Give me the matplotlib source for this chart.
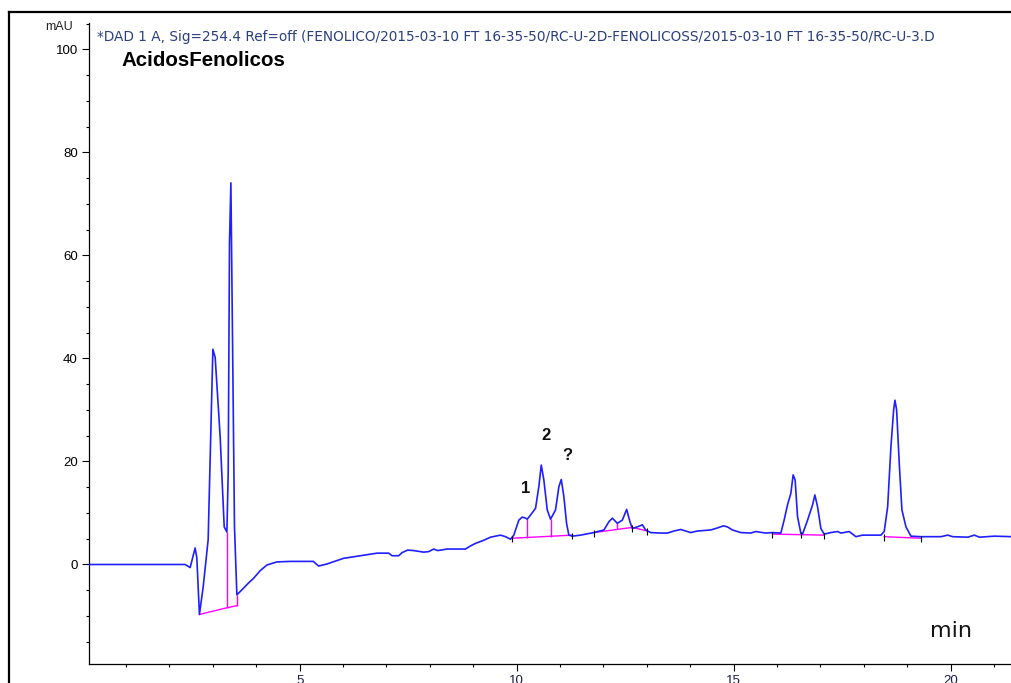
import matplotlib
matplotlib.use("Agg")
import matplotlib.pyplot as plt
from matplotlib.lines import Line2D
from matplotlib.ticker import MultipleLocator

plt.rcParams['font.family'] = ['Liberation Sans', 'DejaVu Sans']

# ---- data (retention time in min, absorbance in mAU) ----
time_min = [0.145, 2.360, 2.476, 2.591, 2.630, 2.690, 2.776, 2.891, 2.953, 3.000,
            3.053, 3.168, 3.261, 3.323, 3.353, 3.383, 3.415, 3.461, 3.498, 3.553,
            3.706, 3.820, 3.936, 4.090, 4.245, 4.476, 4.783, 5.314, 5.436, 5.630, 6.013, 6.244,
            6.474, 6.784, 7.051, 7.130, 7.282, 7.360, 7.490, 7.628, 7.859, 7.974,
            8.090, 8.182, 8.399, 8.821, 8.936, 9.052, 9.213, 9.398, 9.629, 9.744,
            9.860, 9.935, 10.051, 10.129, 10.205, 10.245, 10.321, 10.436, 10.512, 10.568,
            10.628, 10.706, 10.782, 10.897, 10.974, 11.029, 11.089, 11.151, 11.204, 11.283,
            11.474, 11.781, 12.012, 12.127, 12.206, 12.321, 12.436, 12.536, 12.612, 12.667,
            12.783, 12.898, 12.974, 13.089, 13.320, 13.475, 13.627, 13.781, 13.897, 14.012,
            14.167, 14.474, 14.629, 14.767, 14.859, 14.975, 15.166, 15.397, 15.512, 15.743,
            15.897, 16.089, 16.165, 16.244, 16.320, 16.373, 16.419, 16.474, 16.550, 16.590,
            16.705, 16.821, 16.874, 16.936, 17.012, 17.088, 17.243, 17.398, 17.474, 17.665,
            17.820, 17.974, 18.396, 18.472, 18.551, 18.627, 18.689, 18.719, 18.758, 18.818,
            18.880, 18.973, 19.088, 19.319, 19.780, 19.935, 20.051, 20.397, 20.549, 20.665,
            21.010, 21.418]
signal_mau = [0.0, 0.0, -0.6, 3.2, 1.3, -9.7, -4.4, 4.8, 26.1, 41.8,
              40.2, 24.8, 7.3, 6.3, 17.8, 62.4, 74.1, 36.4, 7.3, -5.9,
              -4.6, -3.6, -2.7, -1.2, -0.1, 0.5, 0.6, 0.6, -0.3, 0.1, 1.2, 1.5,
              1.8, 2.2, 2.2, 1.7, 1.7, 2.3, 2.8, 2.7, 2.4, 2.5,
              3.0, 2.7, 3.0, 3.0, 3.6, 4.1, 4.6, 5.3, 5.7, 5.4,
              4.9, 5.7, 8.6, 9.2, 9.0, 8.8, 9.6, 10.9, 15.1, 19.3,
              16.4, 10.6, 8.8, 10.6, 15.1, 16.5, 13.2, 8.0, 5.7, 5.5,
              5.7, 6.2, 6.7, 8.3, 9.0, 8.0, 8.6, 10.7, 8.3, 7.0,
              7.3, 7.7, 6.7, 6.2, 6.1, 6.1, 6.5, 6.8, 6.5, 6.2,
              6.5, 6.7, 7.1, 7.5, 7.3, 6.7, 6.2, 6.1, 6.4, 6.1,
              6.2, 6.1, 8.6, 11.6, 13.8, 17.4, 16.4, 9.3, 6.1, 5.9,
              8.6, 11.6, 13.5, 11.2, 7.0, 5.9, 6.2, 6.4, 6.1, 6.4,
              5.4, 5.7, 5.7, 6.4, 11.2, 22.9, 30.0, 31.9, 30.0, 19.7,
              10.6, 7.3, 5.5, 5.4, 5.4, 5.7, 5.4, 5.3, 5.7, 5.3,
              5.5, 5.4]

# integration baselines (polylines)
baseline_t = [[2.690, 3.323, 3.553],
              [9.898, 11.283],
              [11.781, 12.667, 13.013],
              [15.897, 17.088],
              [18.472, 19.319]]
baseline_v = [[-9.7, -8.4, -8.0],
              [5.1, 5.7],
              [6.2, 7.2, 6.5],
              [5.9, 5.7],
              [5.4, 5.1]]
# peak drop lines (time, bottom, top)
drop_t = [3.323, 3.553, 10.245, 10.782, 12.321, 12.667]
drop_lo = [-8.4, -8.0, 5.2, 5.4, 6.9, 7.2]
drop_hi = [6.3, -5.9, 8.8, 8.8, 8.0, 7.0]
# integration event marks
event_t = [9.898, 11.283, 11.781, 12.667, 13.013, 15.897, 16.550, 17.088, 18.472, 19.319]
event_v = [5.1, 5.7, 6.2, 7.2, 6.5, 5.9, 5.9, 5.7, 5.4, 5.1]

peak_labels = ["1", "2", "?"]
peak_label_t = [10.205, 10.666, 11.17]
peak_label_v = [14.7, 25.0, 21.2]

x_ticks = [5, 10, 15, 20]
y_ticks = [0, 20, 40, 60, 80, 100]

header = ("*DAD 1 A, Sig=254.4 Ref=off (FENOLICO/2015-03-10 FT 16-35-50/RC-U-2D-"
          "FENOLICOSS/2015-03-10 FT 16-35-50/RC-U-3.D")
sample_title = "AcidosFenolicos"

# ---- figure ----
W, H = 1011, 683
fig = plt.figure(figsize=(W / 100, H / 100), dpi=100)
ax = fig.add_axes([89 / W, 18.7 / H, (1013 - 89) / W, (664.3 - 22.7) / H])

ax.plot(time_min, signal_mau, color='#1f1fff', lw=1.2, zorder=3)
for bt, bv in zip(baseline_t, baseline_v):
    ax.plot(bt, bv, color='#ff00ff', lw=1.0, zorder=2)
ax.vlines(drop_t, drop_lo, drop_hi, color='#ff00ff', lw=1.0, zorder=2)
ax.vlines(event_t, [v - 0.8 for v in event_v], [v + 0.5 for v in event_v],
          color='black', lw=0.8, zorder=4)

for lab, t, v in zip(peak_labels, peak_label_t, peak_label_v):
    ax.text(t, v, lab, fontsize=12, fontweight='bold', ha='center', va='center',
            color='#111111')

ax.set_xlim(0.145, 21.44)
ax.set_ylim(-19.38, 105.2)
ax.set_xticks(x_ticks)
ax.set_yticks(y_ticks)
ax.xaxis.set_minor_locator(MultipleLocator(1))
ax.yaxis.set_minor_locator(MultipleLocator(5))
for s in ['top', 'right']:
    ax.spines[s].set_visible(False)
for s in ['left', 'bottom']:
    ax.spines[s].set_linewidth(0.9)
ax.tick_params(axis='both', which='major', direction='out', length=5, width=0.8,
               labelsize=9.5, pad=3, colors='black')
ax.tick_params(axis='both', which='minor', direction='out', length=2.5, width=0.8)
ax.tick_params(axis='x', labelcolor='#1a1a4a')

# texts in pixel positions
def fx(px):
    return px / W

def fy(py):
    return 1 - py / H

fig.text(fx(45), fy(27), "mAU", fontsize=9, ha='left', va='center', color='#222222')
fig.text(fx(97), fy(37), header, fontsize=9.85, ha='left', va='center', color='#2b3f7f',
         family=['DejaVu Sans'])
fig.text(fx(121), fy(60), sample_title, fontsize=14.8, fontweight='bold', ha='left',
         va='center', color='black')
fig.text(fx(930), fy(631), "min", fontsize=16, ha='left', va='center', color='#111111',
         family=['DejaVu Sans'])

# outer frame lines
fig.add_artist(Line2D([fx(9), fx(9)], [0, fy(12)], color='black', lw=1.6))
fig.add_artist(Line2D([fx(9), 1.0], [fy(12), fy(12)], color='black', lw=1.6))

fig.savefig("out.png", dpi=100)
